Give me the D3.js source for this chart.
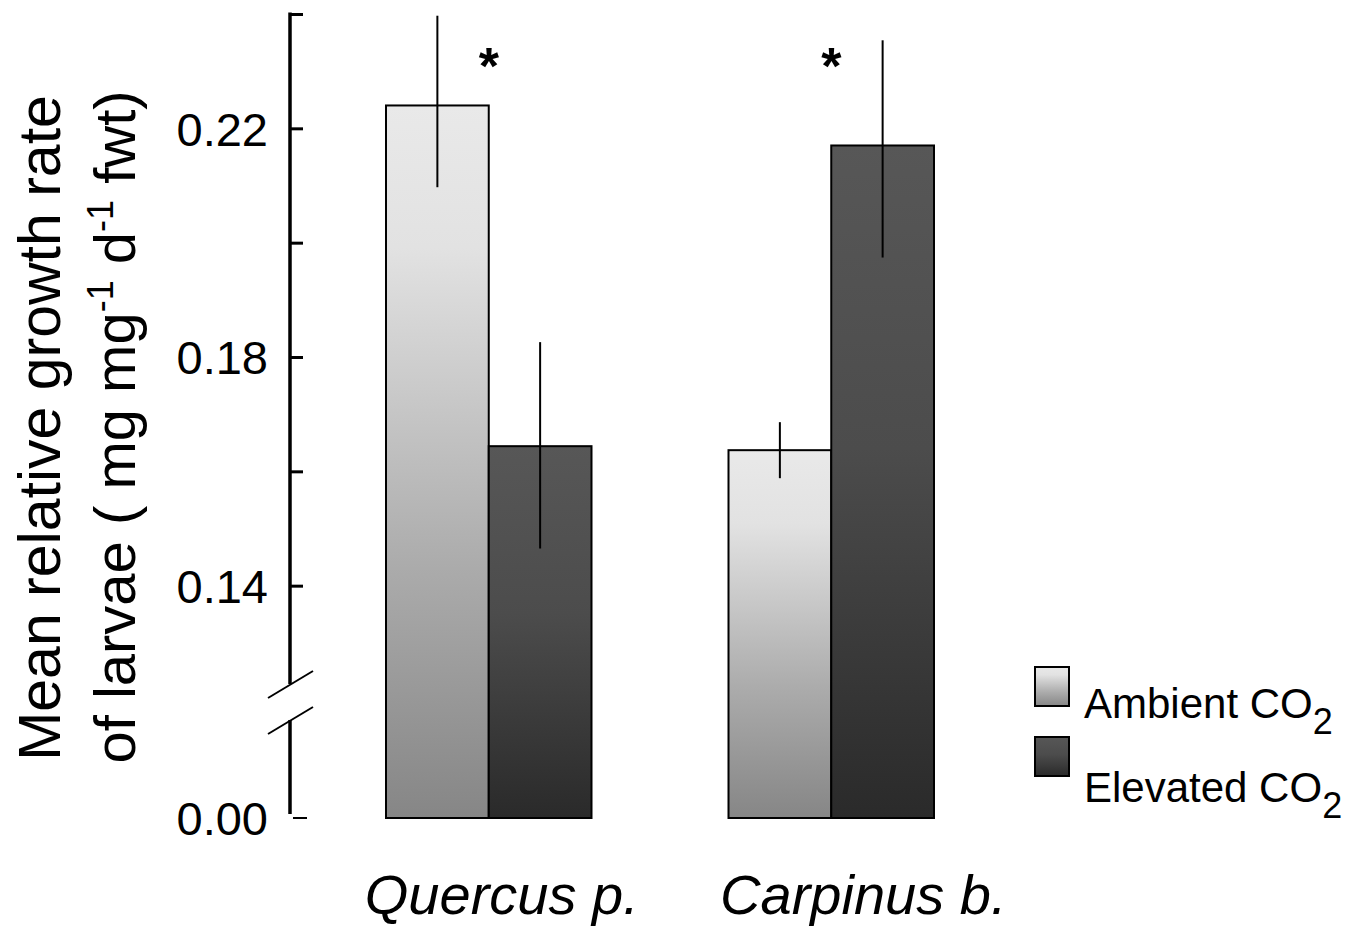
<!DOCTYPE html>
<html>
<head>
<meta charset="utf-8">
<script src="https://cdn.jsdelivr.net/npm/d3@7"></script>
<style>
  html, body { margin: 0; padding: 0; background: #fff; }
  svg { display: block; font-family: "Liberation Sans", Arial, sans-serif; }
</style>
</head>
<body>
<svg id="chart" width="1351" height="926"></svg>
<script>
// ---- data ----
const categories = ["Quercus p.", "Carpinus b."];
const series = ["Ambient", "Elevated"];
const ambientMean = [0.224, 0.1637];
const ambientLow = [0.2097, 0.1588];
const ambientHigh = [0.2397, 0.1686];
const elevatedMean = [0.1644, 0.217];
const elevatedLow = [0.1465, 0.1974];
const elevatedHigh = [0.1826, 0.2354];
const significant = [true, true];
const tickMarks = [0.24, 0.22, 0.20, 0.18, 0.16, 0.14];
const tickLabels = [0.22, 0.18, 0.14, 0.00];
const legendLabels = ["Ambient CO", "Elevated CO"];
const yTitle1 = "Mean relative growth rate";

const svg = d3.select("#chart");

// broken y-scale: lower segment compressed
const y = d3.scaleLinear().domain([0, 0.12, 0.24]).range([818, 700, 14]);
const x = d3.scaleBand().domain(categories).range([386, 934]).paddingInner(0.4).paddingOuter(0);
const xs = d3.scaleBand().domain(series).range([0, x.bandwidth()]).padding(0);
const labelShift = [13, 32];

// gradients
const defs = svg.append("defs");
const gA = defs.append("linearGradient").attr("id", "gradA").attr("x1", 0).attr("y1", 0).attr("x2", 0).attr("y2", 1);
[[0, "#e9e9e9"], [0.2, "#e2e2e2"], [0.65, "#ababab"], [1, "#868686"]].forEach(s =>
  gA.append("stop").attr("offset", s[0]).attr("stop-color", s[1]));
const gE = defs.append("linearGradient").attr("id", "gradE").attr("x1", 0).attr("y1", 0).attr("x2", 0).attr("y2", 1);
[[0, "#575757"], [0.45, "#4c4c4c"], [1, "#2a2a2a"]].forEach(s =>
  gE.append("stop").attr("offset", s[0]).attr("stop-color", s[1]));
const fills = {Ambient: "url(#gradA)", Elevated: "url(#gradE)"};

// data rows
const rows = [];
categories.forEach((c, i) => {
  rows.push({cat: c, s: "Ambient", v: ambientMean[i], lo: ambientLow[i], hi: ambientHigh[i]});
  rows.push({cat: c, s: "Elevated", v: elevatedMean[i], lo: elevatedLow[i], hi: elevatedHigh[i]});
});

// bars
svg.append("g").selectAll("rect").data(rows).join("rect")
  .attr("x", d => x(d.cat) + xs(d.s))
  .attr("y", d => y(d.v))
  .attr("width", xs.bandwidth())
  .attr("height", d => y(0) - y(d.v))
  .attr("fill", d => fills[d.s])
  .attr("stroke", "#000").attr("stroke-width", 2);

// error bars
svg.append("g").selectAll("line").data(rows).join("line")
  .attr("x1", d => x(d.cat) + xs(d.s) + xs.bandwidth() / 2)
  .attr("x2", d => x(d.cat) + xs(d.s) + xs.bandwidth() / 2)
  .attr("y1", d => y(d.hi)).attr("y2", d => y(d.lo))
  .attr("stroke", "#000").attr("stroke-width", 2);

// significance asterisks
svg.append("g").selectAll("text").data(categories.filter((c, i) => significant[i])).join("text")
  .attr("x", d => x(d) + x.bandwidth() / 2)
  .attr("y", 84)
  .attr("text-anchor", "middle")
  .attr("font-size", 52).attr("font-weight", "bold")
  .text("*");

// y axis (broken)
const axisX = 290;
const breakTop = 684, breakBot = 720;
const ax = svg.append("g");
ax.append("line").attr("x1", axisX).attr("x2", axisX).attr("y1", y(0.24) - 1.5).attr("y2", breakTop)
  .attr("stroke", "#000").attr("stroke-width", 3.5);
ax.append("line").attr("x1", axisX).attr("x2", axisX).attr("y1", breakBot).attr("y2", y(0) - 4)
  .attr("stroke", "#000").attr("stroke-width", 3.5);
[breakTop, breakBot].forEach(b => {
  ax.append("line").attr("x1", axisX - 22).attr("y1", b + 14).attr("x2", axisX + 23).attr("y2", b - 13)
    .attr("stroke", "#000").attr("stroke-width", 2);
});
const tickAxis = d3.axisRight(y).tickValues(tickMarks).tickSize(13).tickFormat("");
const tg = svg.append("g").attr("transform", `translate(${axisX},0)`).call(tickAxis);
tg.select(".domain").remove();
tg.selectAll(".tick line").attr("stroke", "#000").attr("stroke-width", 3);
// zero tick (offset, after the break)
svg.append("line").attr("x1", axisX + 3).attr("x2", axisX + 17).attr("y1", y(0)).attr("y2", y(0))
  .attr("stroke", "#000").attr("stroke-width", 2);

const labelAxis = d3.axisLeft(y).tickValues(tickLabels).tickSize(0).tickPadding(22).tickFormat(d3.format(".2f"));
const lg = svg.append("g").attr("transform", `translate(${axisX},0)`).call(labelAxis);
lg.select(".domain").remove();
lg.selectAll(".tick text").attr("font-size", 47).attr("fill", "#000")
  .attr("font-family", '"Liberation Sans", Arial, sans-serif').attr("dy", "0.36em");

// x category labels
svg.append("g").selectAll("text").data(categories).join("text")
  .attr("x", (d, i) => x(d) + x.bandwidth() / 2 + labelShift[i])
  .attr("y", 914)
  .attr("text-anchor", "middle")
  .attr("font-size", 56).attr("font-style", "italic")
  .text(d => d);

// y title
svg.append("text").attr("transform", "translate(60,428) rotate(-90)")
  .attr("text-anchor", "middle").attr("font-size", 59).text(yTitle1);
const t2 = svg.append("text").attr("transform", "translate(135,427) rotate(-90)")
  .attr("text-anchor", "middle").attr("font-size", 58);
t2.append("tspan").text("of larvae ( mg mg");
t2.append("tspan").attr("font-size", 36).attr("dy", -22).text("-1");
t2.append("tspan").attr("dy", 22).text(" d");
t2.append("tspan").attr("font-size", 36).attr("dy", -22).text("-1");
t2.append("tspan").attr("dy", 22).text(" fwt)");

// legend
const legY = [667, 737];
const legTextY = [718, 802];
const lgd = svg.append("g");
series.forEach((s, i) => {
  lgd.append("rect").attr("x", 1035).attr("y", legY[i]).attr("width", 34).attr("height", 39)
    .attr("fill", fills[s]).attr("stroke", "#000").attr("stroke-width", 2);
  const t = lgd.append("text").attr("x", 1084).attr("y", legTextY[i]).attr("font-size", 42);
  t.append("tspan").text(legendLabels[i]);
  t.append("tspan").attr("dy", 16).attr("font-size", 36).text("2");
});
</script>
</body>
</html>
